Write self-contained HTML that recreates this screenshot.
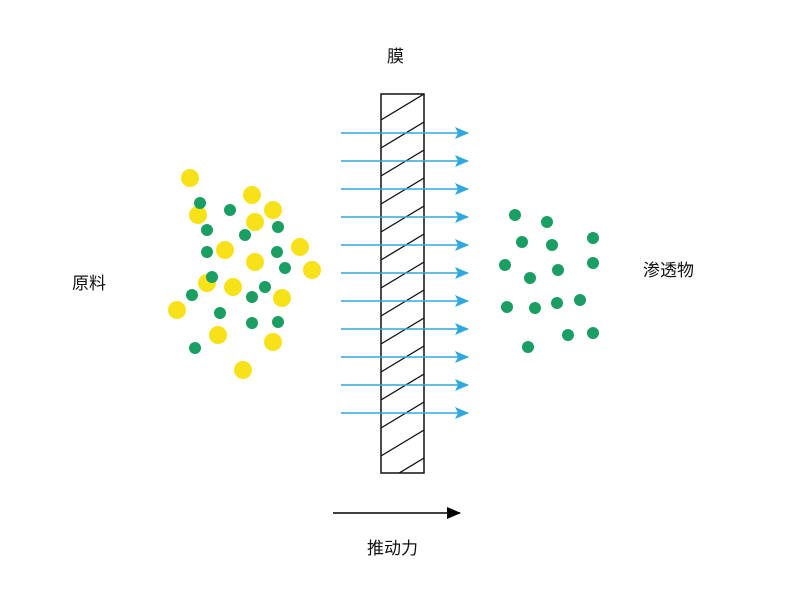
<!DOCTYPE html>
<html><head><meta charset="utf-8"><style>
body{margin:0;background:#fff}
svg text{font-family:"Liberation Sans","Noto Sans CJK SC",sans-serif;font-size:17px;fill:#111}
</style></head><body>
<svg width="800" height="600" viewBox="0 0 800 600" xmlns="http://www.w3.org/2000/svg">
<defs>
<clipPath id="c"><rect x="381" y="94" width="43" height="379"/></clipPath>
<marker id="ab" markerWidth="14" markerHeight="12" refX="13" refY="6" orient="auto" markerUnits="userSpaceOnUse"><path d="M0,0 L14,6 L0,12 L3,6 Z" fill="#2fa8df"/></marker>
<marker id="ak" markerWidth="14" markerHeight="12" refX="13" refY="6" orient="auto" markerUnits="userSpaceOnUse"><path d="M0,0 L14,6 L0,12 Z" fill="#000"/></marker>
</defs>
<text x="387" y="62">膜</text>
<text x="72" y="289">原料</text>
<text x="643" y="276">渗透物</text>
<text x="367" y="554">推动力</text>
<rect x="381" y="94" width="43" height="379" fill="#fff" stroke="#111" stroke-width="1.5"/>
<g clip-path="url(#c)" stroke="#111" stroke-width="1.3">
<path d="M381,120 L424,94 M381,148 L424,122 M381,176 L424,150 M381,204 L424,178 M381,232 L424,206 M381,260 L424,234 M381,288 L424,262 M381,316 L424,290 M381,344 L424,318 M381,372 L424,346 M381,400 L424,374 M381,428 L424,402 M381,456 L424,430 M381,484 L424,458 M381,512 L424,486"/>
</g>
<g stroke="#2fa8df" stroke-width="1.6" marker-end="url(#ab)">
<line x1="341" y1="133" x2="468" y2="133"/><line x1="341" y1="161" x2="468" y2="161"/>
<line x1="341" y1="189" x2="468" y2="189"/><line x1="341" y1="217" x2="468" y2="217"/>
<line x1="341" y1="245" x2="468" y2="245"/><line x1="341" y1="273" x2="468" y2="273"/>
<line x1="341" y1="301" x2="468" y2="301"/><line x1="341" y1="329" x2="468" y2="329"/>
<line x1="341" y1="357" x2="468" y2="357"/><line x1="341" y1="385" x2="468" y2="385"/>
<line x1="341" y1="413" x2="468" y2="413"/>
</g>
<line x1="333" y1="513" x2="460" y2="513" stroke="#000" stroke-width="1.6" marker-end="url(#ak)"/>
<g fill="#f7e21a">
<circle cx="190" cy="178" r="9"/><circle cx="252" cy="195" r="9"/><circle cx="198" cy="215" r="9"/><circle cx="273" cy="210" r="9"/><circle cx="255" cy="222" r="9"/><circle cx="300" cy="247" r="9"/><circle cx="225" cy="250" r="9"/><circle cx="255" cy="262" r="9"/><circle cx="312" cy="270" r="9"/><circle cx="207" cy="283" r="9"/><circle cx="233" cy="287" r="9"/><circle cx="282" cy="298" r="9"/><circle cx="177" cy="310" r="9"/><circle cx="218" cy="335" r="9"/><circle cx="273" cy="342" r="9"/><circle cx="243" cy="370" r="9"/>
</g>
<g fill="#1a9e62">
<circle cx="200" cy="203" r="6"/><circle cx="230" cy="210" r="6"/><circle cx="207" cy="230" r="6"/><circle cx="278" cy="227" r="6"/><circle cx="245" cy="235" r="6"/><circle cx="207" cy="252" r="6"/><circle cx="277" cy="252" r="6"/><circle cx="285" cy="268" r="6"/><circle cx="212" cy="277" r="6"/><circle cx="265" cy="287" r="6"/><circle cx="192" cy="295" r="6"/><circle cx="252" cy="297" r="6"/><circle cx="220" cy="313" r="6"/><circle cx="278" cy="322" r="6"/><circle cx="252" cy="323" r="6"/><circle cx="195" cy="348" r="6"/>
<circle cx="515" cy="215" r="6"/><circle cx="547" cy="222" r="6"/><circle cx="522" cy="242" r="6"/><circle cx="552" cy="245" r="6"/><circle cx="593" cy="238" r="6"/><circle cx="505" cy="265" r="6"/><circle cx="593" cy="263" r="6"/><circle cx="558" cy="270" r="6"/><circle cx="530" cy="278" r="6"/><circle cx="507" cy="307" r="6"/><circle cx="535" cy="308" r="6"/><circle cx="557" cy="303" r="6"/><circle cx="580" cy="300" r="6"/><circle cx="568" cy="335" r="6"/><circle cx="593" cy="333" r="6"/><circle cx="528" cy="347" r="6"/>
</g>
</svg>
</body></html>
